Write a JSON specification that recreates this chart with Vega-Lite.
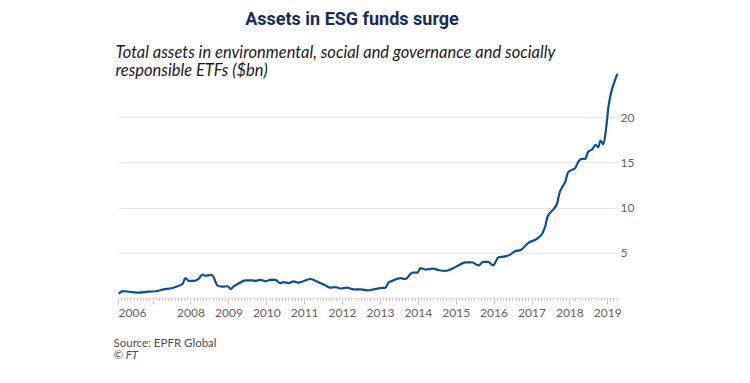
{
  "$schema": "https://vega.github.io/schema/vega-lite/v6.json",
  "width": 500,
  "height": 235,
  "autosize": {"type": "none"},
  "padding": {"left": 118, "top": 63, "right": 132, "bottom": 85},
  "background": "white",
  "title": {"text": "Assets in ESG funds surge", "anchor": "middle", "dx": -16, "font": "Roboto", "fontSize": 18, "fontWeight": "bold", "color": "#192b5a", "offset": 15},
  "config": {"view": {"stroke": null}},
  "data": {"values": [
    {"date": "2006-02-06", "value": 0.5},
    {"date": "2006-03-25", "value": 0.75},
    {"date": "2006-06-20", "value": 0.65},
    {"date": "2006-08-18", "value": 0.6},
    {"date": "2006-11-20", "value": 0.7},
    {"date": "2007-01-30", "value": 0.75},
    {"date": "2007-04-16", "value": 0.95},
    {"date": "2007-07-12", "value": 1.1},
    {"date": "2007-08-29", "value": 1.3},
    {"date": "2007-10-16", "value": 1.55},
    {"date": "2007-11-14", "value": 2.2},
    {"date": "2007-12-13", "value": 1.9},
    {"date": "2008-01-30", "value": 1.9},
    {"date": "2008-03-17", "value": 2.1},
    {"date": "2008-04-26", "value": 2.6},
    {"date": "2008-05-26", "value": 2.45},
    {"date": "2008-07-13", "value": 2.55},
    {"date": "2008-07-31", "value": 2.5},
    {"date": "2008-09-16", "value": 1.4},
    {"date": "2008-11-03", "value": 1.25},
    {"date": "2008-12-24", "value": 1.3},
    {"date": "2009-01-22", "value": 1.0},
    {"date": "2009-02-17", "value": 1.25},
    {"date": "2009-04-08", "value": 1.6},
    {"date": "2009-06-13", "value": 1.95},
    {"date": "2009-08-22", "value": 1.95},
    {"date": "2009-09-20", "value": 1.9},
    {"date": "2009-11-06", "value": 2.0},
    {"date": "2009-12-24", "value": 1.85},
    {"date": "2010-02-10", "value": 2.0},
    {"date": "2010-03-29", "value": 2.0},
    {"date": "2010-05-16", "value": 1.65},
    {"date": "2010-06-14", "value": 1.75},
    {"date": "2010-08-04", "value": 1.65},
    {"date": "2010-09-21", "value": 1.85},
    {"date": "2010-11-07", "value": 1.7},
    {"date": "2010-12-24", "value": 1.85},
    {"date": "2011-03-04", "value": 2.1},
    {"date": "2011-04-01", "value": 2.0},
    {"date": "2011-06-06", "value": 1.65},
    {"date": "2011-07-23", "value": 1.4},
    {"date": "2011-09-09", "value": 1.15},
    {"date": "2011-10-30", "value": 1.2},
    {"date": "2011-12-17", "value": 1.05},
    {"date": "2012-02-20", "value": 1.15},
    {"date": "2012-04-19", "value": 0.95},
    {"date": "2012-06-28", "value": 0.95},
    {"date": "2012-09-02", "value": 0.85},
    {"date": "2012-10-30", "value": 0.95},
    {"date": "2013-01-04", "value": 1.1},
    {"date": "2013-02-24", "value": 1.15},
    {"date": "2013-03-21", "value": 1.65},
    {"date": "2013-05-11", "value": 1.95},
    {"date": "2013-07-16", "value": 2.2},
    {"date": "2013-09-02", "value": 2.1},
    {"date": "2013-11-10", "value": 2.8},
    {"date": "2013-12-28", "value": 2.8},
    {"date": "2014-01-26", "value": 3.3},
    {"date": "2014-03-15", "value": 3.15},
    {"date": "2014-05-31", "value": 3.25},
    {"date": "2014-07-17", "value": 3.1},
    {"date": "2014-09-24", "value": 3.0},
    {"date": "2014-11-28", "value": 3.25},
    {"date": "2015-01-26", "value": 3.6},
    {"date": "2015-04-05", "value": 3.95},
    {"date": "2015-06-10", "value": 3.95},
    {"date": "2015-08-08", "value": 3.6},
    {"date": "2015-09-24", "value": 4.0},
    {"date": "2015-11-10", "value": 4.0},
    {"date": "2015-12-28", "value": 3.6},
    {"date": "2016-02-17", "value": 4.5},
    {"date": "2016-04-23", "value": 4.6},
    {"date": "2016-06-10", "value": 4.8},
    {"date": "2016-07-31", "value": 5.2},
    {"date": "2016-09-17", "value": 5.3},
    {"date": "2016-12-02", "value": 6.1},
    {"date": "2017-02-28", "value": 6.6},
    {"date": "2017-04-16", "value": 7.15},
    {"date": "2017-05-15", "value": 8.0},
    {"date": "2017-06-02", "value": 8.9},
    {"date": "2017-07-02", "value": 9.45},
    {"date": "2017-07-31", "value": 9.8},
    {"date": "2017-09-06", "value": 10.5},
    {"date": "2017-09-27", "value": 11.6},
    {"date": "2017-10-26", "value": 12.3},
    {"date": "2017-11-21", "value": 12.8},
    {"date": "2017-12-20", "value": 13.9},
    {"date": "2018-01-30", "value": 14.2},
    {"date": "2018-02-28", "value": 14.4},
    {"date": "2018-03-29", "value": 15.1},
    {"date": "2018-05-04", "value": 15.4},
    {"date": "2018-06-03", "value": 15.4},
    {"date": "2018-07-02", "value": 16.2},
    {"date": "2018-08-11", "value": 16.45},
    {"date": "2018-09-09", "value": 16.95},
    {"date": "2018-10-08", "value": 16.7},
    {"date": "2018-10-26", "value": 17.4},
    {"date": "2018-11-13", "value": 17.2},
    {"date": "2018-11-24", "value": 17.0},
    {"date": "2018-12-24", "value": 19.0},
    {"date": "2019-01-11", "value": 21.0},
    {"date": "2019-02-09", "value": 22.8},
    {"date": "2019-03-11", "value": 23.9},
    {"date": "2019-04-09", "value": 24.8}
  ]},
  "layer": [
    {
      "mark": {"type": "line", "opacity": 0},
      "encoding": {
        "x": {"field": "date", "type": "temporal",
          "scale": {"domain": [{"year": 2006, "month": 2, "date": 1}, {"year": 2019, "month": 4, "date": 15}]},
          "axis": {"orient": "bottom", "tickCount": {"interval": "month", "step": 1}, "labels": false, "domain": false, "grid": false,
            "tickSize": 3, "tickColor": "#d6cec6", "tickWidth": 1,
            "title": "© FT", "titleX": -5, "titleY": 60, "titleAlign": "left", "titleBaseline": "alphabetic",
            "titleFont": "Lato", "titleFontSize": 11.5, "titleFontWeight": "normal", "titleFontStyle": "italic", "titleColor": "#4d4d4d"}},
        "y": {"field": "value", "type": "quantitative", "scale": {"domain": [0, 25]}, "axis": null}
      }
    },
    {
      "mark": {"type": "line", "color": "#0f4c99", "strokeWidth": 2.2, "interpolate": "monotone"},
      "encoding": {
        "x": {"field": "date", "type": "temporal",
          "axis": {"orient": "bottom", "values": [{"year": 2006, "month": 2, "date": 1}, {"year": 2007, "month": 1, "date": 1}, {"year": 2008, "month": 1, "date": 1}, {"year": 2009, "month": 1, "date": 1}, {"year": 2010, "month": 1, "date": 1}, {"year": 2011, "month": 1, "date": 1}, {"year": 2012, "month": 1, "date": 1}, {"year": 2013, "month": 1, "date": 1}, {"year": 2014, "month": 1, "date": 1}, {"year": 2015, "month": 1, "date": 1}, {"year": 2016, "month": 1, "date": 1}, {"year": 2017, "month": 1, "date": 1}, {"year": 2018, "month": 1, "date": 1}, {"year": 2019, "month": 1, "date": 1}],
            "format": "%Y", "labelExpr": "year(datum.value) == 2007 ? '' : datum.label",
            "labelFlush": true, "labelOverlap": false, "grid": false,
            "domain": true, "domainColor": "#e6ded6", "tickSize": 6, "tickColor": "#d0c7be",
            "labelFont": "Lato", "labelFontSize": 12, "labelColor": "#66605c", "labelPadding": 3,
            "title": "Source: EPFR Global", "titleX": -5, "titleY": 48, "titleAlign": "left", "titleBaseline": "alphabetic",
            "titleFont": "Lato", "titleFontSize": 11.5, "titleFontWeight": "normal", "titleColor": "#4d4d4d"}},
        "y": {"field": "value", "type": "quantitative",
          "axis": {"orient": "right", "values": [5, 10, 15, 20], "grid": true, "gridColor": "#efe8e1", "domain": false, "ticks": false,
            "labelFont": "Lato", "labelFontSize": 12, "labelColor": "#66605c", "labelPadding": 2,
            "title": ["Total assets in environmental, social and governance and socially", "responsible ETFs ($bn)"],
            "titleAngle": 0, "titleAlign": "left", "titleBaseline": "alphabetic", "titleX": -503, "titleY": -6,
            "titleFont": "Lato", "titleFontSize": 16.5, "titleFontStyle": "italic", "titleFontWeight": "normal",
            "titleColor": "#1a1a1a", "titleLineHeight": 18}}
      }
    }
  ],
  "resolve": {"axis": {"x": "independent", "y": "independent"}}
}
